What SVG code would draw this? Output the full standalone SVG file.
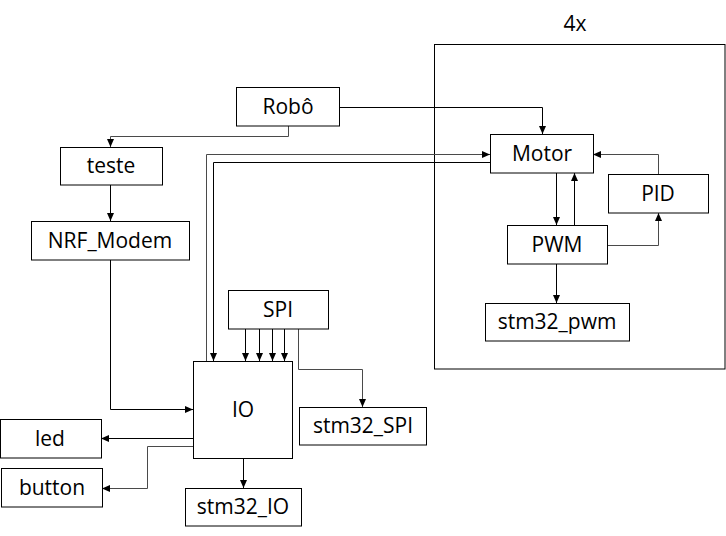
<svg xmlns="http://www.w3.org/2000/svg" width="726" height="536" viewBox="0 0 726 536">
<style>
.box{fill:#fff;stroke:#000;stroke-width:1}
.lbl{font-family:"Open Sans","Liberation Sans",sans-serif;font-size:21px;fill:#000;text-anchor:middle}
.c{fill:none;stroke:#000;stroke-width:1}
.g{stroke:#4a4a4a}
</style>
<defs>
<marker id="ah" markerUnits="userSpaceOnUse" markerWidth="9" markerHeight="8" refX="8" refY="3.5" orient="auto">
<path d="M0,0 L8,3.5 L0,7 z" fill="#000"/>
</marker>
</defs>
<rect width="726" height="536" fill="#fff"/>
<g id="container4x">
<rect x="434.5" y="44.5" width="290.5" height="324.5" fill="none" stroke="#000"/>
<text class="lbl" x="575" y="31">4x</text>
</g>
<g id="connectors">
<path class="c g" d="M288.5,126 V136.5 H110.5 V147" marker-end="url(#ah)"/>
<path class="c" d="M339,107.5 H542.5 V134" marker-end="url(#ah)"/>
<path class="c" d="M110.5,185 V221" marker-end="url(#ah)"/>
<path class="c" d="M110.5,260 V409.5 H193" marker-end="url(#ah)"/>
<path class="c g" d="M206.5,361 V154.5 H490" marker-end="url(#ah)"/>
<path class="c" d="M490,162.5 H213.5 V361" marker-end="url(#ah)"/>
<path class="c" d="M556.5,173 V225" marker-end="url(#ah)"/>
<path class="c" d="M574.5,225 V173" marker-end="url(#ah)"/>
<path class="c g" d="M658.5,174 V154.5 H593" marker-end="url(#ah)"/>
<path class="c g" d="M607,245.5 H658.5 V213" marker-end="url(#ah)"/>
<path class="c" d="M556.5,264 V303" marker-end="url(#ah)"/>
<path class="c" d="M245.5,329 V361" marker-end="url(#ah)"/>
<path class="c" d="M259.5,329 V361" marker-end="url(#ah)"/>
<path class="c" d="M272.5,329 V361" marker-end="url(#ah)"/>
<path class="c" d="M284.5,329 V361" marker-end="url(#ah)"/>
<path class="c g" d="M298.5,329 V369.5 H362.5 V407" marker-end="url(#ah)"/>
<path class="c" d="M193,438.5 H101" marker-end="url(#ah)"/>
<path class="c g" d="M193,446.5 H147.5 V488.5 H102" marker-end="url(#ah)"/>
<path class="c" d="M243.5,458 V488" marker-end="url(#ah)"/>
</g>
<g id="robo"><rect class="box" x="236.5" y="87.5" width="103" height="38.5"/><text class="lbl" x="288" y="114">Robô</text></g>
<g id="teste"><rect class="box" x="60.5" y="147.5" width="102" height="37.5"/><text class="lbl" x="111" y="173">teste</text></g>
<g id="nrf_modem"><rect class="box" x="31.5" y="221.5" width="158" height="38.5"/><text class="lbl" x="110" y="248">NRF_Modem</text></g>
<g id="motor"><rect class="box" x="490.5" y="134.5" width="103" height="38.5"/><text class="lbl" x="542" y="161">Motor</text></g>
<g id="pid"><rect class="box" x="608.5" y="174.5" width="100" height="38.5"/><text class="lbl" x="658" y="201">PID</text></g>
<g id="pwm"><rect class="box" x="507.5" y="225.5" width="100" height="38.5"/><text class="lbl" x="557" y="252">PWM</text></g>
<g id="stm32_pwm"><rect class="box" x="485.5" y="303.5" width="144" height="37.5"/><text class="lbl" x="557" y="329">stm32_pwm</text></g>
<g id="spi"><rect class="box" x="228.5" y="290.5" width="100" height="38.5"/><text class="lbl" x="278" y="317">SPI</text></g>
<g id="io"><rect class="box" x="193.5" y="361.5" width="99" height="97"/><text class="lbl" x="243" y="417">IO</text></g>
<g id="stm32_spi"><rect class="box" x="299.5" y="407.5" width="127" height="37.5"/><text class="lbl" x="363" y="433">stm32_SPI</text></g>
<g id="led"><rect class="box" x="0.5" y="419.5" width="101" height="38.5"/><text class="lbl" x="50" y="446">led</text></g>
<g id="button"><rect class="box" x="1.5" y="468.5" width="101" height="38.5"/><text class="lbl" x="52" y="495">button</text></g>
<g id="stm32_io"><rect class="box" x="185.5" y="488.5" width="116" height="37.5"/><text class="lbl" x="243" y="514">stm32_IO</text></g>
</svg>
